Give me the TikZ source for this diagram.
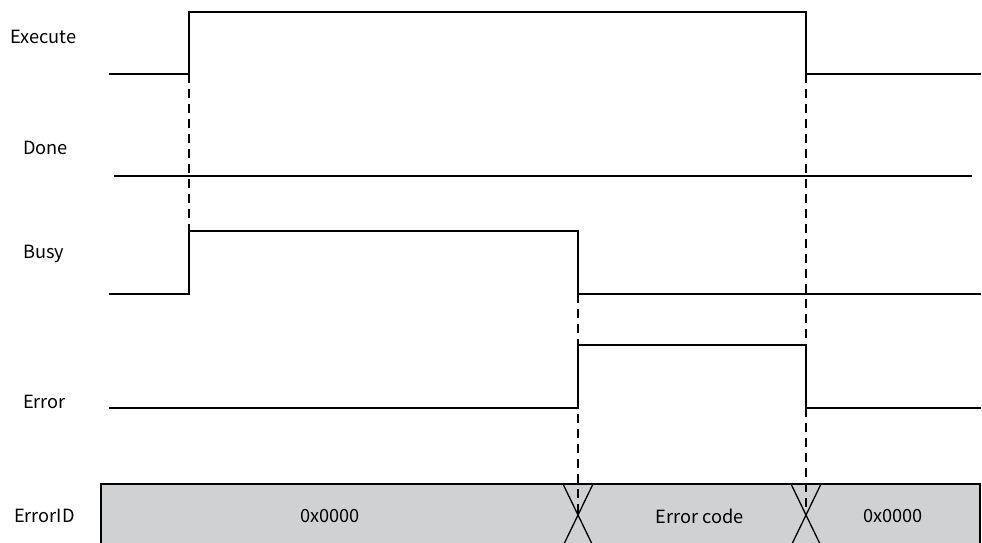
\documentclass[tikz,border=0pt]{standalone}
\usepackage{fontspec}
\setmainfont{Noto Sans CJK SC}
\begin{document}
\begin{tikzpicture}[x=1pt,y=-1pt,
  sig/.style={line width=2pt, line cap=butt},
  guide/.style={line width=1.4pt, dash pattern=on 9pt off 6pt},
  lab/.style={anchor=west, font=\fontsize{18.2}{21}\selectfont, inner sep=0pt},
  val/.style={font=\fontsize{18.2}{21}\selectfont, inner sep=0pt},
  xline/.style={line width=1.3pt}]
\useasboundingbox (0,0) rectangle (982,542);
% ErrorID bus
\fill[fill={rgb,255:red,208;green,209;blue,211}] (101,484) rectangle (980,545);
\draw[line width=1.5pt] (101,545) -- (101,484) -- (980,484) -- (980,545);
% crossings
\coordinate (c1) at (578,515);
\coordinate (c2) at (806,515);
\draw[xline] (563,484) -- (593,546);
\draw[xline] (593,484) -- (563,546);
\draw[xline] (791,484) -- (821,546);
\draw[xline] (821,484) -- (791,546);
% labels
\node[lab] (lexe) at (10,37) {Execute};
\node[lab] (ldone) at (23,148) {Done};
\node[lab] (lbusy) at (23,254) {Busy};
\node[lab] (lerr) at (23,402) {Error};
\node[lab] (lid) at (14,516) {ErrorID};
\node[val] (v1) at (330,516) {0x0000};
\node[val] (v2) at (700,516) {Error code};
\node[val] (v3) at (893,516) {0x0000};
% Execute
\draw[sig] (109,74) -- (189,74) -- (189,12) -- (806,12) -- (806,74) -- (981,74);
% Done
\draw[sig] (114,176) -- (972,176);
% Busy
\draw[sig] (109,294) -- (189,294) -- (189,231) -- (578,231) -- (578,294) -- (981,294);
% Error
\draw[sig] (109,408) -- (578,408) -- (578,345) -- (806,345) -- (806,408) -- (981,408);
% guides
\draw[guide] (189,74) -- (189,231);
\draw[guide] (578,294) -- (c1);
\draw[guide] (806,74) -- (806,345);
\draw[guide] (806,408) -- (c2);
\end{tikzpicture}
\end{document}
